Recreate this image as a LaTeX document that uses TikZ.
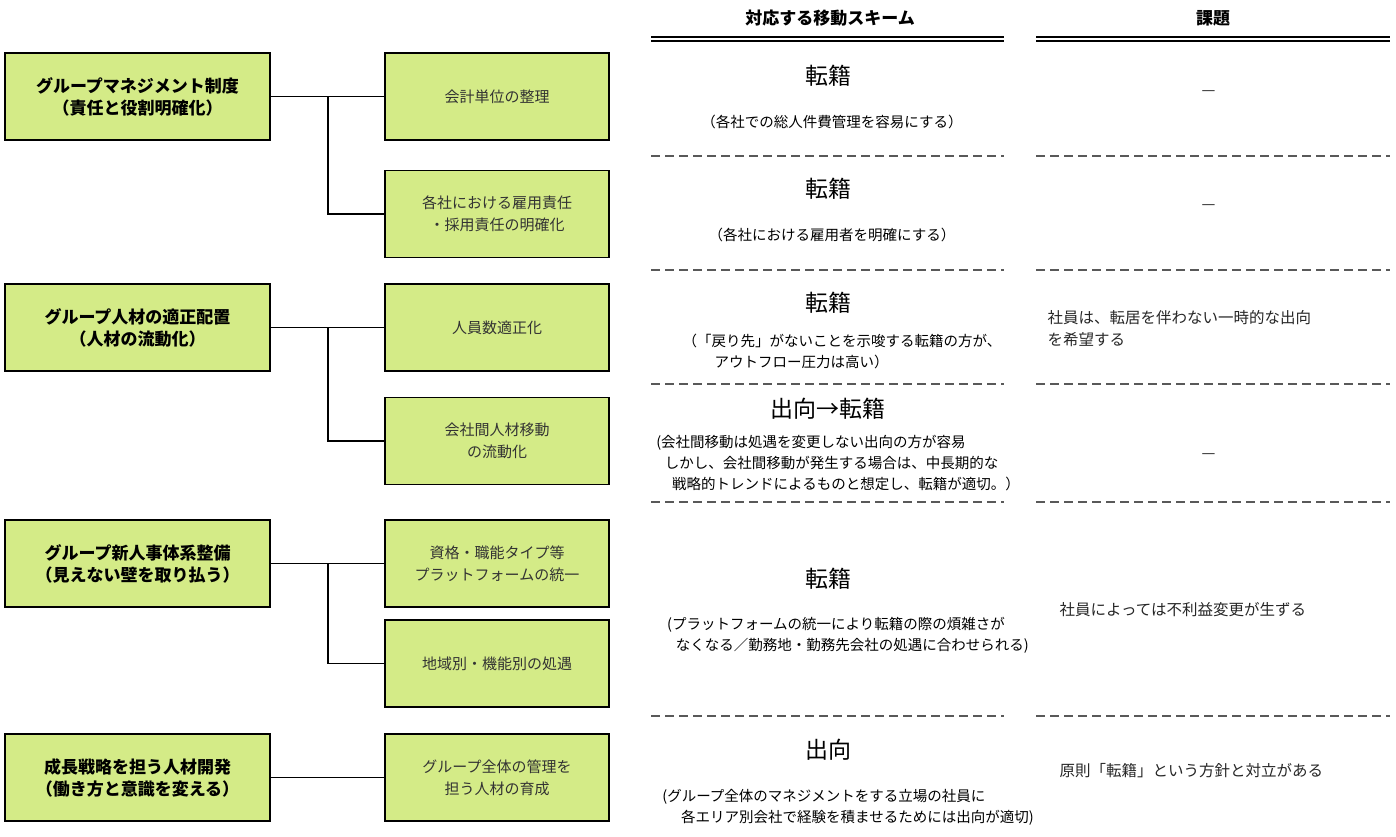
\documentclass[tikz,border=0pt]{standalone}
\usepackage{fontspec}
\setmainfont{Noto Sans CJK JP}
\newfontfamily\cjkb{Noto Sans CJK JP}[FakeBold=0]
\definecolor{boxg}{HTML}{D4EB87}
\begin{document}
\begin{tikzpicture}[x=1pt,y=-1pt,
  lbox/.style={draw=black,line width=1.8pt,fill=boxg,minimum width=265pt,minimum height=87pt,align=center,font=\fontsize{17}{22}\selectfont\bfseries},
  mbox/.style={draw=black,line width=1.8pt,fill=boxg,minimum width=224pt,minimum height=87pt,align=center,font=\fontsize{15}{22}\selectfont,text=black!80},
  conn/.style={line width=1.6pt},
  big/.style={font=\fontsize{23}{28}\selectfont},
  sub/.style={font=\fontsize{14.5}{21}\selectfont,align=left},
  rtxt/.style={font=\fontsize{15.5}{22}\selectfont,align=left,anchor=west,text=black!85},
  dl/.style={dashed,dash pattern=on 9pt off 5pt,line width=1.2pt,black!65}]
\useasboundingbox (0,0) rectangle (1396,837);
\node[lbox] (L1) at (137.5,96.5) {グループマネジメント制度\\（責任と役割明確化）};
\node[lbox] (L2) at (137.5,327.5) {グループ人材の適正配置\\（人材の流動化）};
\node[lbox] (L3) at (137.5,563.5) {グループ新人事体系整備\\（見えない壁を取り払う）};
\node[lbox] (L4) at (137.5,777.5) {成長戦略を担う人材開発\\（働き方と意識を変える）};
\node[mbox] (M1) at (497,96.5) {会計単位の整理};
\node[mbox] (M2) at (497,214) {各社における雇用責任\\・採用責任の明確化};
\node[mbox] (M3) at (497,327.5) {人員数適正化};
\node[mbox] (M4) at (497,441) {会社間人材移動\\の流動化};
\node[mbox] (M5) at (497,563.5) {資格・職能タイプ等\\プラットフォームの統一};
\node[mbox] (M6) at (497,663.5) {地域別・機能別の処遇};
\node[mbox] (M7) at (497,777.5) {グループ全体の管理を\\担う人材の育成};
\coordinate (J1) at (328,96.5);
\coordinate (J2) at (328,327.5);
\coordinate (J3) at (328,563.5);
\draw[conn] (L1.east) -- (M1.west);
\draw[conn] (J1) |- (M2.west);
\draw[conn] (L2.east) -- (M3.west);
\draw[conn] (J2) |- (M4.west);
\draw[conn] (L3.east) -- (M5.west);
\draw[conn] (J3) |- (M6.west);
\draw[conn] (L4.east) -- (M7.west);
% headers
\node[font=\fontsize{17}{20}\selectfont\bfseries] (H1) at (830,18) {対応する移動スキーム};
\node[font=\fontsize{17}{20}\selectfont\bfseries] (H2) at (1213,18) {課題};
\coordinate (a1) at (651,41); \coordinate (a2) at (1004,41);
\coordinate (b1) at (1036,41); \coordinate (b2) at (1390,41);
\draw[line width=1.3pt] (a1) -- (a2) ([yshift=4pt]a1) -- ([yshift=4pt]a2);
\draw[line width=1.3pt] (b1) -- (b2) ([yshift=4pt]b1) -- ([yshift=4pt]b2);
\foreach \y in {156,270,384,502,716}{
  \draw[dl] (651,\y) -- (1004,\y);
  \draw[dl] (1036,\y) -- (1390,\y);
}
% row 1
\node[big] (s1) at (828,76) {転籍};
\node[sub] (t1) at (832,122) {（各社での総人件費管理を容易にする）};
\node[rtxt] (r1) at (1198,93) {—};
% row 2
\node[big] (s2) at (828,189) {転籍};
\node[sub] (t2) at (832,235) {（各社における雇用者を明確にする）};
\node[rtxt] (r2) at (1198,207) {—};
% row 3
\node[big] (s3) at (828,303) {転籍};
\node[sub] (t3) at (842,351) {（「戻り先」がないことを示唆する転籍の方が、\\\hspace*{2.2em}アウトフロー圧力は高い）};
\node[rtxt] (r3) at (1044,329) {社員は、転居を伴わない一時的な出向\\を希望する};
\node[big] (s4) at (828,409) {出向→転籍};
\node[sub] (t4) at (838,463) {(会社間移動は処遇を変更しない出向の方が容易\\\hspace*{0.6em}しかし、会社間移動が発生する場合は、中長期的な\\\hspace*{1.1em}戦略的トレンドによるものと想定し、転籍が適切。）};
\node[rtxt] (r4) at (1198,456) {—};
% row 5
\node[big] (s5) at (828,579) {転籍};
\node[sub] (t5) at (848,635) {(プラットフォームの統一により転籍の際の煩雑さが\\\hspace*{0.6em}なくなる／勤務地・勤務先会社の処遇に合わせられる)};
\node[rtxt] (r5) at (1056,610) {社員によっては不利益変更が生ずる};
% row 6
\node[big] (s6) at (828,750) {出向};
\node[sub] (t6) at (848,807) {(グループ全体のマネジメントをする立場の社員に\\\hspace*{1.3em}各エリア別会社で経験を積ませるためには出向が適切)};
\node[rtxt] (r6) at (1056,771) {原則「転籍」という方針と対立がある};
\end{tikzpicture}
\end{document}
